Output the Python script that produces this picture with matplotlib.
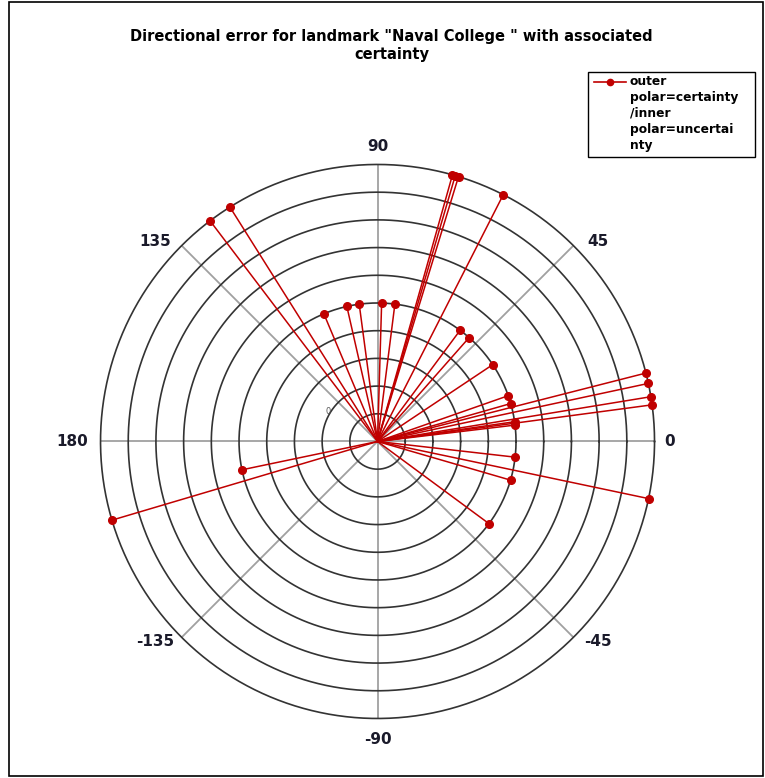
import numpy as np
import matplotlib.pyplot as plt
from matplotlib.lines import Line2D
from matplotlib.patches import Rectangle

# directional error (degrees) and certainty ring (5 = uncertain, 10 = certain)
angles_deg = [127.2, 122.2, 112.8, 102.8, 97.6, 88.3, 82.8, 74.3, 73.7, 73.0,
              63.0, 53.4, 48.6, 33.7, 19.3, 15.9, 8.2, 6.8, 14.3, 12.1,
              9.3, 7.6, -6.5, -16.2, -11.9, -36.4, 191.8, 196.5]
radii = [10, 10, 5, 5, 5, 5, 5, 10, 10, 10,
         10, 5, 5, 5, 5, 5, 5, 5, 10, 10,
         10, 10, 5, 5, 10, 5, 5, 10]
angle_labels = ['0', '45', '90', '135', '180', '-135', '-90', '-45']

red = '#C00000'
px_per_unit = 27.7

fig = plt.figure(figsize=(7.65, 7.78), dpi=100)
ax = fig.add_axes([0.1314, 0.0765, 0.7242, 0.7121], projection='polar')

theta = np.deg2rad(angles_deg)
for t, r in zip(theta, radii):
    ax.plot([t, t], [0, r], color=red, lw=1.1, zorder=3, clip_on=False)
ax.plot(theta, radii, 'o', color=red, ms=5.5, zorder=4, clip_on=False)

# concentric rings and spokes
ring_t = np.linspace(0, 2 * np.pi, 400)
for r in range(1, 11):
    ax.plot(ring_t, np.full_like(ring_t, r), color='#333333', lw=1.2, zorder=2,
            clip_on=False)
for a in range(0, 360, 45):
    ax.plot([np.deg2rad(a)] * 2, [0, 10], color='#a0a0a0', lw=1.3, zorder=1)

ax.set_ylim(0, 10)
ax.grid(False)
ax.spines['polar'].set_visible(False)
ax.set_yticks([])
ax.set_xticks([])

# angle labels, offsets from the centre in pixels
label_offsets = [(292, 0), (220, 200), (0, 295), (-222, 200), (-305, 0),
                 (-222, -200), (0, -298), (220, -200)]
for (dx, dy), lab in zip(label_offsets, angle_labels):
    ax.text(np.arctan2(dy, dx), np.hypot(dx, dy) / px_per_unit, lab,
            ha='center', va='center', fontsize=11, fontweight='bold',
            color='#1a1a2a')
ax.text(np.deg2rad(149), 2.1, '0', ha='center', va='center', fontsize=6,
        color='#555555')

fig.text(0.512, 0.942, 'Directional error for landmark "Naval College " with associated\ncertainty',
         ha='center', va='center', fontsize=10.5, fontweight='bold', linespacing=1.25)

# legend box drawn by hand so the marker sits on the first text line
fig.patches.append(Rectangle((588 / 765, 1 - 157 / 778), 167 / 765, 85 / 778,
                             transform=fig.transFigure, fill=False,
                             edgecolor='black', lw=1.0))
fig.lines.append(Line2D([594 / 765, 626 / 765], [1 - 82 / 778] * 2, color=red,
                        lw=1.2, transform=fig.transFigure))
fig.lines.append(Line2D([610 / 765], [1 - 82 / 778], color=red, marker='o', ms=4.5,
                        transform=fig.transFigure))
fig.text(630 / 765, 1 - 75 / 778, 'outer\npolar=certainty\n/inner\npolar=uncertai\nnty',
         ha='left', va='top', fontsize=8.8, fontweight='bold', linespacing=1.3)

fig.patches.append(Rectangle((0.012, 0.003), 0.985, 0.995, transform=fig.transFigure,
                             fill=False, edgecolor='black', lw=1.2))

fig.savefig('out.png', dpi=100)
